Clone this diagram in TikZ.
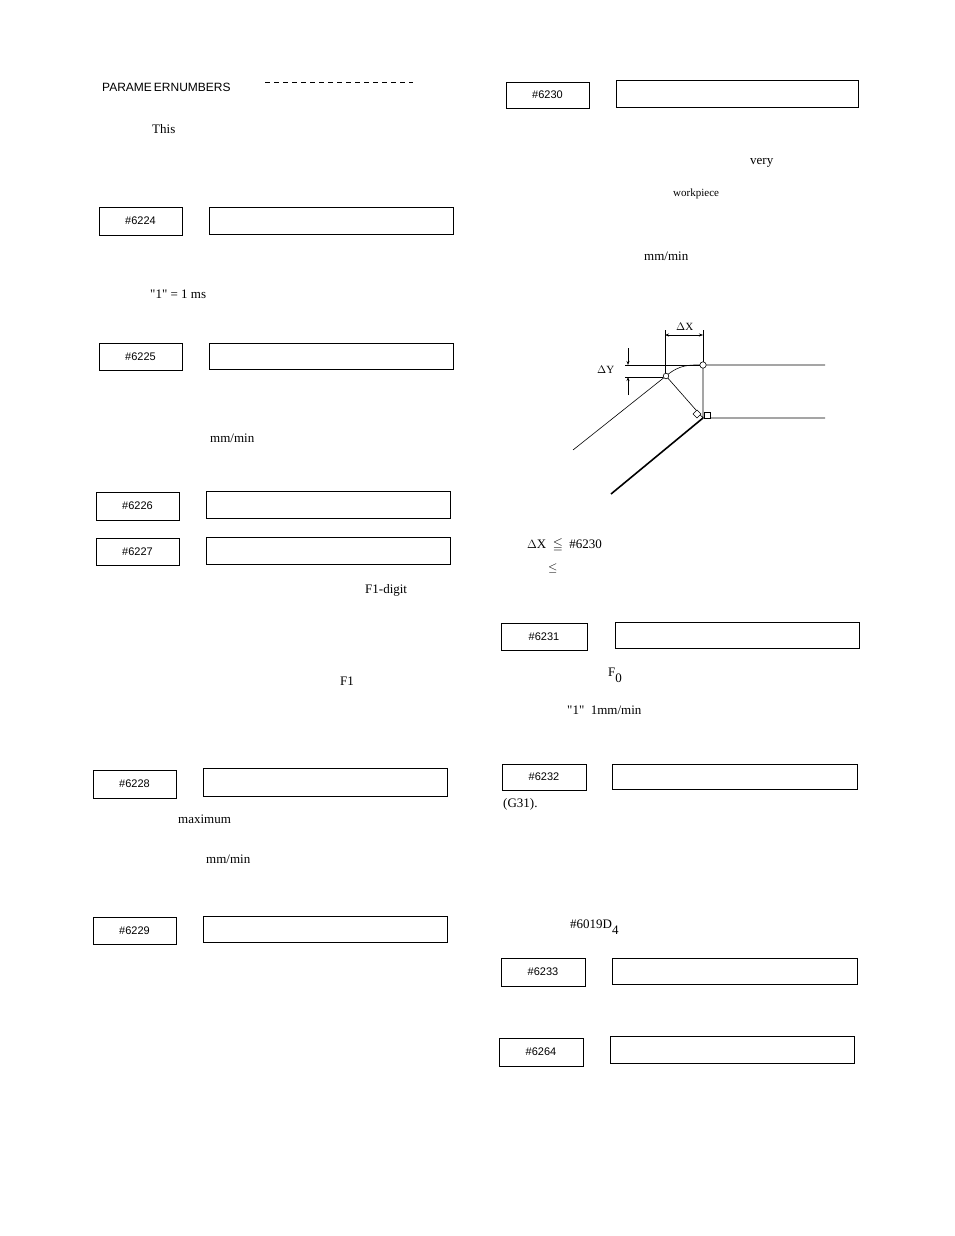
\documentclass[tikz,border=0pt]{standalone}
\usepackage{amssymb}
\usepackage{fontspec}
\setmainfont{Liberation Serif}
\newfontfamily\hv{Liberation Sans}
\usetikzlibrary{arrows.meta}
\tikzset{txt/.style={anchor=west,inner sep=0pt,font=\fontsize{13}{15}\selectfont},
 num/.style={inner sep=0pt,font=\hv\fontsize{11}{13}\selectfont}}
\newcommand\pbox[9]{%
 \draw[line width=0.8pt] (#2,#4) rectangle (#3,#5);
 \node[num] (#1) at ({(#2+#3)/2},{(#4+#5)/2}) {\##1};
 \draw[line width=0.8pt] (#6,#8) rectangle (#7,#9);
 \coordinate (v#1) at ({(#6+#7)/2},{(#8+#9)/2});}
\begin{document}
\begin{tikzpicture}[x=1pt,y=-1pt]
\useasboundingbox (0,0) rectangle (954,1236);
\node[txt,font=\hv\fontsize{12}{14}\selectfont] (h) at (102,87) {PARAME\,ERNUMBERS};
\draw[line width=1pt,dash pattern=on 5pt off 4pt] (265,83)--(413,83);
\node[txt] (t1) at (152,129) {This};
\pbox{6224}{99}{182}{207}{235}{209}{453}{207}{234}
\node[txt] (t2) at (150,294) {\textquotedbl 1\textquotedbl\ = 1 ms};
\pbox{6225}{99}{182}{343}{370}{209}{453}{343}{369}
\node[txt] (t3) at (210,438) {mm/min};
\pbox{6226}{96}{179}{492}{520}{206}{450}{491}{518}
\pbox{6227}{96}{179}{538}{565}{206}{450}{537}{564}
\node[txt] (t4) at (365,590) {F1-digit};
\node[txt] (t5) at (340,681) {F1};
\pbox{6228}{93}{176}{770}{798}{203}{447}{768}{796}
\node[txt] (t6) at (178,819) {maximum};
\node[txt] (t7) at (206,859) {mm/min};
\pbox{6229}{93}{176}{917}{944}{203}{447}{916}{942}
% right column
\pbox{6230}{506}{589}{82}{108}{616}{858}{80}{107}
\node[txt] (r1) at (750,163) {very};
\node[txt,font=\fontsize{11}{13}\selectfont] (r2) at (673,194) {workpiece};
\node[txt] (r3) at (644,256) {mm/min};
% figure
\coordinate (A) at (666,376); \coordinate (B) at (703,365); \coordinate (C) at (703,418);
\draw[line width=0.6pt] (A) .. controls (680,364) and (690,365) .. (B);
\draw[line width=0.6pt] (B)--(825,365) (B)--(C)--(825,418) (A)--(C) (A)--(573,450);
\draw[line width=1.6pt] (C)--(611,494);
\draw[fill=white,line width=0.6pt] (B) circle (3.2) (A) circle (2.8);
\draw[fill=white,line width=0.6pt] (704,412) rectangle (710,418);
\draw[fill=white,line width=0.6pt] (697,410)--(701,414)--(697,418)--(693,414)--cycle;
\draw[line width=0.5pt] (665,330)--(665,373) (703,330)--(703,362);
\draw[line width=0.5pt,{Stealth[length=4pt]}-{Stealth[length=4pt]}] (665,335)--(703,335);
\draw[line width=0.5pt] (625,365)--(700,365) (625,377)--(663,377);
\draw[line width=0.5pt,-{Stealth[length=4pt]}] (628,348)--(628,365);
\draw[line width=0.5pt,-{Stealth[length=4pt]}] (628,395)--(628,377);
\node[txt,font=\fontsize{11}{13}\selectfont] (dx) at (676,327) {$\Delta$X};
\node[txt,font=\fontsize{11}{13}\selectfont] (dy) at (597,370) {$\Delta$Y};
\node[txt] (r4) at (527,545) {$\Delta$X\ \ $\leqq$\ \ \#6230};
\node[txt] (r5) at (548,568) {$\leq$};
\pbox{6231}{501}{587}{623}{650}{615}{859}{622}{648}
\node[txt] (r6) at (608,675) {F\raisebox{-1ex}{0}};
\node[txt] (r7) at (567,710) {\textquotedbl 1\textquotedbl\ \ 1mm/min};
\pbox{6232}{502}{586}{764}{790}{612}{857}{764}{789}
\node[txt] (r8) at (503,804) {(G31).};
\node[txt] (r9) at (570,927) {\#6019D\raisebox{-1ex}{4}};
\pbox{6233}{501}{585}{958}{986}{612}{857}{958}{984}
\pbox{6264}{499}{583}{1038}{1066}{610}{854}{1036}{1063}
\end{tikzpicture}
\end{document}
